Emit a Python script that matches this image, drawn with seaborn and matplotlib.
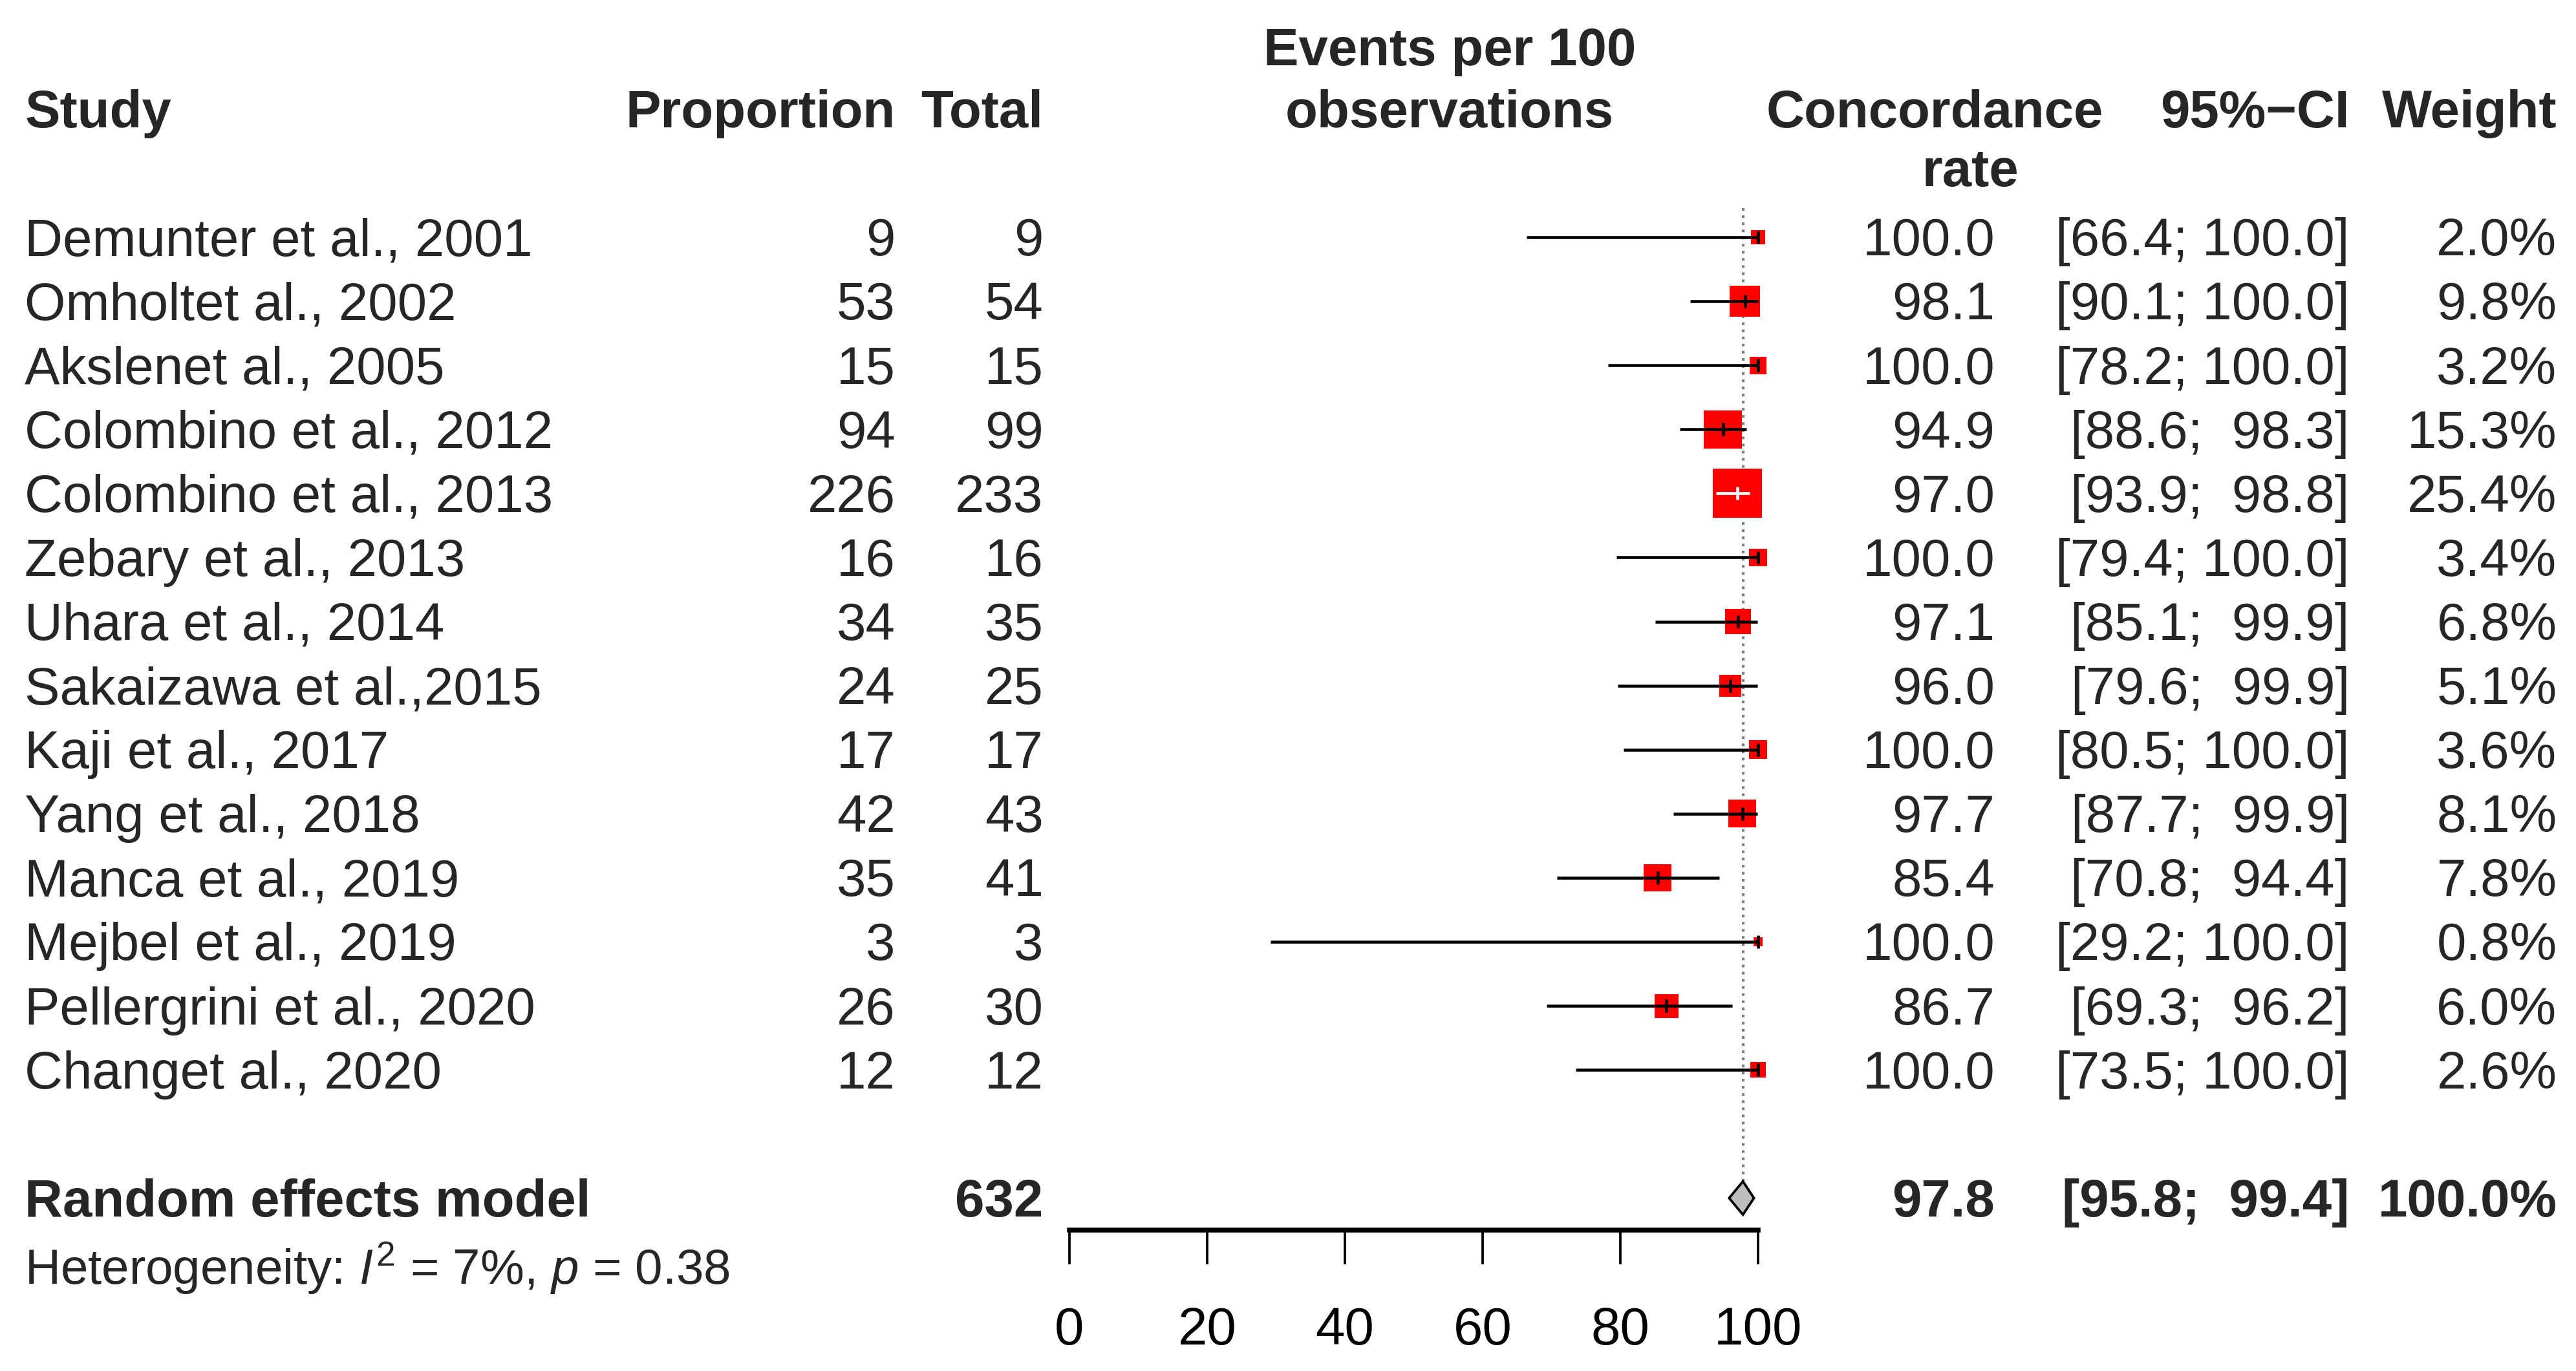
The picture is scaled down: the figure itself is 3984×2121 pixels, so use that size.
import numpy as np
import pandas as pd
import matplotlib
matplotlib.use("Agg")
import matplotlib.pyplot as plt
import seaborn as sns

# study level data
studies = ["Demunter et al., 2001", "Omholtet al., 2002", "Akslenet al., 2005",
           "Colombino et al., 2012", "Colombino et al., 2013", "Zebary et al., 2013",
           "Uhara et al., 2014", "Sakaizawa et al.,2015", "Kaji et al., 2017",
           "Yang et al., 2018", "Manca et al., 2019", "Mejbel et al., 2019",
           "Pellergrini et al., 2020", "Changet al., 2020"]
events = [9, 53, 15, 94, 226, 16, 34, 24, 17, 42, 35, 3, 26, 12]
totals = [9, 54, 15, 99, 233, 16, 35, 25, 17, 43, 41, 3, 30, 12]
rate = [100.0, 98.1, 100.0, 94.9, 97.0, 100.0, 97.1, 96.0, 100.0, 97.7, 85.4, 100.0, 86.7, 100.0]
ci_lo = [66.4, 90.1, 78.2, 88.6, 93.9, 79.4, 85.1, 79.6, 80.5, 87.7, 70.8, 29.2, 69.3, 73.5]
ci_hi = [100.0, 100.0, 100.0, 98.3, 98.8, 100.0, 99.9, 99.9, 100.0, 99.9, 94.4, 100.0, 96.2, 100.0]
weight = [2.0, 9.8, 3.2, 15.3, 25.4, 3.4, 6.8, 5.1, 3.6, 8.1, 7.8, 0.8, 6.0, 2.6]

pooled_rate = 97.8
pooled_lo = 95.8
pooled_hi = 99.4
pooled_total = 632
het_i2 = 7
het_p = 0.38
x_ticks = [0, 20, 40, 60, 80, 100]

df = pd.DataFrame({"study": studies, "events": events, "total": totals,
                   "rate": rate, "lo": ci_lo, "hi": ci_hi, "weight": weight})
df["row"] = np.arange(len(df))

sns.set_style("white")
plt.rcParams["font.family"] = ["Liberation Sans", "DejaVu Sans"]
plt.rcParams["mathtext.fontset"] = "custom"
plt.rcParams["mathtext.rm"] = "Liberation Sans"
plt.rcParams["mathtext.it"] = "Liberation Sans:italic"

FS = 19.6
FS_HET = 18.3
DY = 0.075  # small downward nudge so text sits on the row centre

fig = plt.figure(figsize=(13.28, 7.07), dpi=300)
# forest panel: x 0..100, rows downwards, axis line at row 15.5
ax = fig.add_axes([0.41516, 0.10278, 0.26732, 0.89722])
ax.set_xlim(0, 100)
ax.set_ylim(15.5, -3.703)
for s in ["top", "left", "right"]:
    ax.spines[s].set_visible(False)
ax.spines["bottom"].set_linewidth(1.8)
ax.spines["bottom"].set_color("black")
ax.set_yticks([])
ax.set_xticks(x_ticks)
ax.tick_params(axis="x", bottom=True, direction="out", length=12.7, width=0.9,
               pad=15.5, labelsize=FS, colors="black")

# reference line at the pooled estimate
ax.plot([pooled_rate, pooled_rate], [-0.45, 14.74], ls=":", color="grey",
        lw=1.0, zorder=1)

# confidence intervals
ax.hlines(df["row"], df["lo"], df["hi"], color="black", lw=1.1, zorder=2,
          clip_on=False)

# squares, area proportional to weight
k = 13.07
wmin, wmax = df["weight"].min(), df["weight"].max()
sns.scatterplot(data=df, x="rate", y="row", size="weight",
                sizes=(k * wmin, k * wmax), size_norm=(wmin, wmax),
                marker="s", color="red", linewidth=0, legend=False,
                clip_on=False, zorder=3, ax=ax)
ax.set_xlabel("")
ax.set_ylabel("")

# lines inside the squares (white when the CI fits inside the box)
px_per_unit = fig.get_figwidth() * fig.dpi * 0.26732 / 100
for _, r in df.iterrows():
    half = np.sqrt(k * r["weight"]) * fig.dpi / 72 / 2 / px_per_unit
    inside = (r["rate"] - r["lo"] <= half) and (r["hi"] - r["rate"] <= half)
    c = "white" if inside else "black"
    ax.hlines(r["row"], max(r["lo"], r["rate"] - half), min(r["hi"], r["rate"] + half),
              color=c, lw=1.1, zorder=4, clip_on=False)
    ax.vlines(r["rate"], r["row"] - 0.1, r["row"] + 0.1, color=c, lw=1.1,
              zorder=4, clip_on=False)

# pooled diamond
ax.fill([pooled_lo, pooled_rate, pooled_hi, pooled_rate],
        [15.0, 14.74, 15.0, 15.26], facecolor="#bebebe", edgecolor="black",
        lw=0.9, zorder=3, clip_on=False)

# text columns
x_study = -151.7
x_prop = -25.3
x_total = -3.8
x_rate = 134.4
x_ci = 185.9
x_w = 216.0

def put(x, y, s, ha, bold=False, size=FS):
    ax.text(x, y + DY, s, ha=ha, va="center", fontsize=size,
            fontweight="bold" if bold else "normal", clip_on=False)

put(x_study, -2, "Study", "left", True)
put(x_prop, -2, "Proportion", "right", True)
put(x_total, -2, "Total", "right", True)
put(55.2, -2.97, "Events per 100", "center", True)
put(55.2, -2, "observations", "center", True)
put(125.7, -2, "Concordance", "center", True)
put(130.8, -1.08, "rate", "center", True)
put(x_ci, -2, "95%\u2212CI", "right", True)
put(x_w, -2, "Weight", "right", True)

for _, r in df.iterrows():
    y = r["row"]
    put(x_study, y, r["study"], "left")
    put(x_prop, y, f"{r['events']}", "right")
    put(x_total, y, f"{r['total']}", "right")
    put(x_rate, y, f"{r['rate']:.1f}", "right")
    put(x_ci, y, f"[{r['lo']:4.1f}; {r['hi']:5.1f}]", "right")
    put(x_w, y, f"{r['weight']:.1f}%", "right")

put(x_study, 15, "Random effects model", "left", True)
put(x_total, 15, f"{pooled_total}", "right", True)
put(x_rate, 15, f"{pooled_rate:.1f}", "right", True)
put(x_ci, 15, f"[{pooled_lo:4.1f}; {pooled_hi:5.1f}]", "right", True)
put(x_w, 15, "100.0%", "right", True)
put(x_study, 16.02, f"Heterogeneity: $I^2$ = {het_i2}%, $p$ = {het_p}", "left",
    size=FS_HET)

fig.savefig("out.png", dpi=300)
